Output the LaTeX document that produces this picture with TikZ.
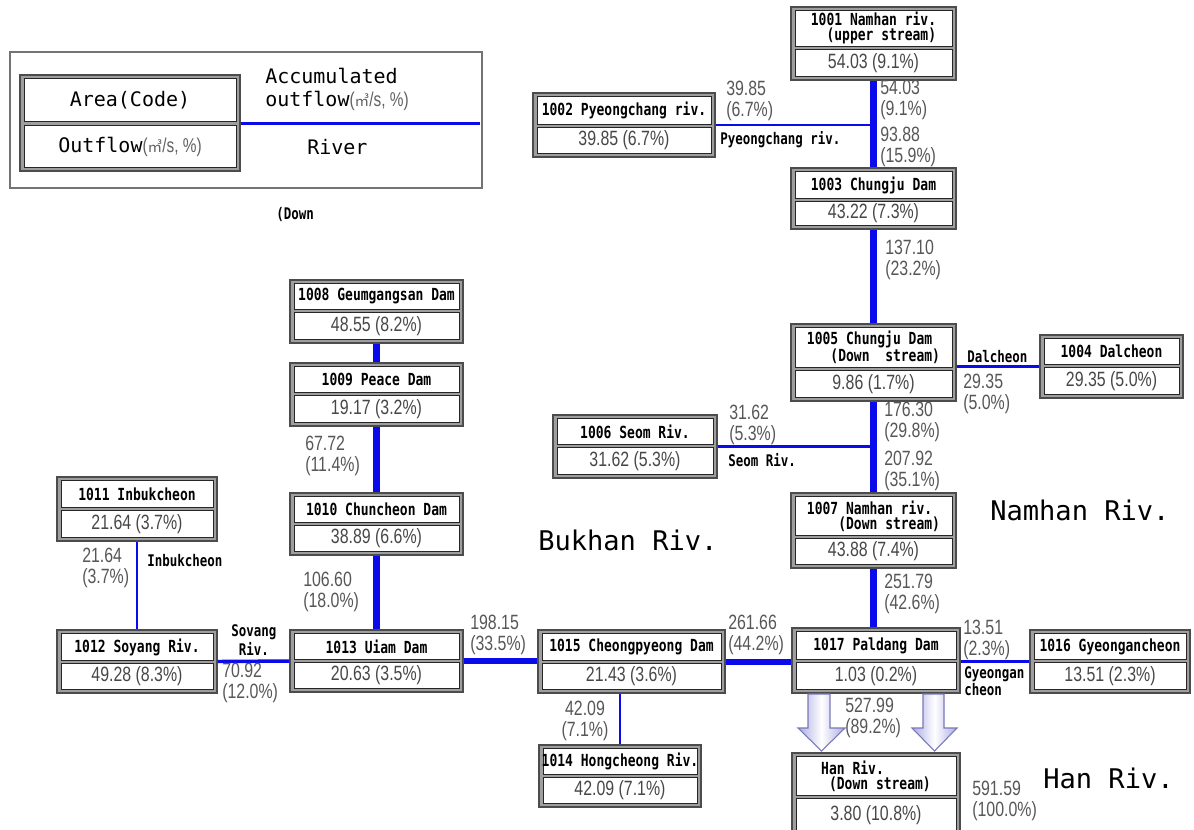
\documentclass[tikz,border=0pt]{standalone}
\usepackage{fontspec}
\setmainfont{Liberation Sans}
\newfontfamily\tfont[FakeStretch=0.78]{DejaVu Sans Mono}
\newfontfamily\mfont{DejaVu Sans Mono}
\newfontfamily\nfont[FakeStretch=0.77]{Liberation Sans}
\newfontfamily\cjk{Noto Sans CJK KR}
\usetikzlibrary{fit}
\definecolor{riverblue}{RGB}{10,10,235}
\definecolor{arrowfill}{RGB}{170,170,228}
\definecolor{arrowedge}{RGB}{120,120,185}
% name, x1, y1, x2, y2, split y, title, value
\newcommand\gbox[8]{%
  \node[frame, fit={(#2,#3) (#4,#5)}] (#1) {};
  \node[inbox, fit={(#2+4,#3+3.5) (#4-4,#6-1.5)}] (#1t) {};
  \node[inbox, fit={(#2+4,#6+1.5) (#4-4,#5-3.5)}] (#1v) {};
  \node[ttl] (#1tt) at (#1t.center) {#7};
  \node[val] (#1vv) at (#1v.center) {#8};
}
\begin{document}
\begin{tikzpicture}[x=0.75pt,y=-0.75pt,
  frame/.style={draw=black!70, fill=black!38, line width=0.9pt, inner sep=0pt},
  inbox/.style={draw=black!85, fill=white, line width=0.7pt, inner sep=0pt},
  ttl/.style={font={\tfont\bfseries\fontsize{12.5}{11.2}\selectfont}, align=left, inner sep=0pt},
  val/.style={font={\nfont\fontsize{15.5}{16}\selectfont}, text=black!72, inner sep=0pt},
  num/.style={font={\nfont\fontsize{15.5}{16.2}\selectfont}, text=black!66, align=left, anchor=west, inner sep=0pt},
  tag/.style={font={\tfont\bfseries\fontsize{12}{10}\selectfont}, align=left, anchor=west, inner sep=0pt},
  big/.style={font={\mfont\fontsize{20.3}{24}\selectfont}, anchor=west, inner sep=0pt},
  legtext/.style={font={\mfont\fontsize{15}{18}\selectfont}, align=left, anchor=west, inner sep=0pt},
  mainriver/.style={draw=riverblue, line width=5.5pt},
  trib/.style={draw=riverblue, line width=2pt},
  bigarrow/.style={draw=arrowedge, line width=0.8pt, left color=arrowfill, right color=arrowfill, middle color=white}
]
\useasboundingbox (0,0) rectangle (1194,829);
\fill[white] (0,0) rectangle (1194,829);

% ---------- legend ----------
\node[draw=black!55, line width=1.2pt, inner sep=0pt, fit={(10,52) (482,188)}] (legend) {};
\node[frame, fit={(20,75) (240,171)}] (lg) {};
\node[inbox, fit={(24,78.5) (236,121.5)}] (lgt) {};
\node[inbox, fit={(24,125.5) (236,167.5)}] (lgv) {};
\node[font={\mfont\fontsize{15}{18}\selectfont}, inner sep=0pt] (lgtt) at (lgt.center) {Area(Code)};
\node[font={\mfont\fontsize{15}{18}\selectfont}, inner sep=0pt] (lgvv) at (lgv.center)
  {Outflow{\nfont\color{black!62}\fontsize{15}{16}\selectfont(\cjk\fontsize{11}{12}\selectfont ㎥\nfont\fontsize{15}{16}\selectfont/s, \%)}};
\coordinate (lgend) at (480,123);
\draw[trib, line width=2.25pt] (lg.east) -- (lgend);
\node[legtext] (acc) at (265,76) {Accumulated};
\node[legtext] (outf) at (265,101) {outflow{\nfont\color{black!62}\fontsize{15}{16}\selectfont(\cjk\fontsize{11}{12}\selectfont ㎥\nfont\fontsize{15}{16}\selectfont/s, \%)}};
\node[legtext] (riv) at (307,147) {River};
\node[tag] (down) at (276,214) {(Down};

% ---------- boxes ----------
\gbox{n1001}{791}{7}{956}{80}{47.5}{1001 Namhan riv.\\~~(upper stream)}{54.03 (9.1\%)}
\gbox{n1002}{533}{93}{715}{157}{126}{1002 Pyeongchang riv.}{39.85 (6.7\%)}
\gbox{n1003}{791}{168}{956}{229}{200}{1003 Chungju Dam}{43.22 (7.3\%)}
\gbox{n1005}{791}{324}{956}{401}{369}{1005 Chungju Dam\\~~~(Down~~stream)}{9.86 (1.7\%)}
\gbox{n1004}{1040}{335}{1183}{398}{366}{1004 Dalcheon}{29.35 (5.0\%)}
\gbox{n1006}{553}{415}{717}{478}{446}{1006 Seom Riv.}{31.62 (5.3\%)}
\gbox{n1007}{791}{493}{956}{568}{537}{1007 Namhan riv.\\~~~~(Down stream)}{43.88 (7.4\%)}
\gbox{n1008}{290}{280}{463}{343}{311}{1008 Geumgangsan Dam}{48.55 (8.2\%)}
\gbox{n1009}{290}{363}{463}{426}{394}{1009 Peace Dam}{19.17 (3.2\%)}
\gbox{n1010}{290}{493}{463}{555}{524}{1010 Chuncheon Dam}{38.89 (6.6\%)}
\gbox{n1011}{57}{477}{217}{541}{509}{1011 Inbukcheon}{21.64 (3.7\%)}
\gbox{n1012}{57}{630}{217}{693}{662}{1012 Soyang Riv.}{49.28 (8.3\%)}
\gbox{n1013}{290}{630}{463}{692}{661}{1013 Uiam Dam}{20.63 (3.5\%)}
\gbox{n1015}{538}{630}{725}{693}{662}{1015 Cheongpyeong Dam}{21.43 (3.6\%)}
\gbox{n1014}{539}{745}{701}{807}{776}{1014 Hongcheong Riv.}{42.09 (7.1\%)}
\gbox{n1017}{792}{628}{960}{693}{661}{1017 Paldang Dam}{1.03 (0.2\%)}
\gbox{n1016}{1030}{630}{1190}{693}{661}{1016 Gyeongancheon}{13.51 (2.3\%)}
\gbox{nhan}{792}{753}{960}{836}{797}{Han Riv.\\~(Down stream)}{3.80 (10.8\%)}

% ---------- rivers ----------
\draw[mainriver] (n1001.south) -- (n1003.north);
\draw[mainriver] (n1003.south) -- (n1005.north);
\draw[mainriver] (n1005.south) -- (n1007.north);
\draw[mainriver] (n1007.south) -- (n1007.south |- n1017.north);
\draw[trib] (n1002.east) -- (n1002.east -| n1001.south);
\draw[trib] (n1004.west) -- (n1004.west -| n1005.east);
\draw[trib] (n1006.east) -- (n1006.east -| n1005.south);
\draw[trib] (n1016.west) -- (n1016.west -| n1017.east);
\draw[mainriver] (n1008.south) -- (n1009.north);
\draw[mainriver] (n1009.south) -- (n1010.north);
\draw[mainriver] (n1010.south) -- (n1013.north);
\draw[trib] (n1011.south) -- (n1012.north);
\draw[trib, line width=2.6pt] (n1012.east) -- (n1013.west);
\draw[mainriver, line width=4.5pt] (n1013.east) -- (n1013.east -| n1015.west);
\draw[mainriver, line width=4.5pt] (n1015.east) -- (n1015.east -| n1017.west);
\draw[trib, line width=1.6pt] (n1014.north) -- (n1014.north |- n1015.south);

% ---------- outflow arrows ----------
\draw[bigarrow] (808,694) -- (830,694) -- (830,728) -- (845,728) -- (821.5,751) -- (798,728) -- (808,728) -- cycle;
\draw[bigarrow] (923,694) -- (944,694) -- (944,728) -- (957,728) -- (934.5,751) -- (912,728) -- (923,728) -- cycle;

% ---------- flow labels ----------
\node[num] (l1) at (880,100) {54.03\\(9.1\%)};
\node[num] (l2) at (880,147) {93.88\\(15.9\%)};
\node[num] (l3) at (726,101) {39.85\\(6.7\%)};
\node[tag] (t1) at (720,140) {Pyeongchang riv.};
\node[num] (l4) at (885,260) {137.10\\(23.2\%)};
\node[tag] (t2) at (967,357) {Dalcheon};
\node[num] (l5) at (963,394) {29.35\\(5.0\%)};
\node[num] (l6) at (884,422) {176.30\\(29.8\%)};
\node[num] (l7) at (884,471) {207.92\\(35.1\%)};
\node[num] (l8) at (729,425) {31.62\\(5.3\%)};
\node[tag] (t3) at (728,460) {Seom Riv.};
\node[big] (b1) at (990,510) {Namhan Riv.};
\node[big] (b2) at (538,540) {Bukhan Riv.};
\node[num] (l9) at (884,594) {251.79\\(42.6\%)};
\node[num] (l10) at (963,640) {13.51\\(2.3\%)};
\node[tag, font={\tfont\bfseries\fontsize{12}{10}\selectfont}] (t4) at (964,681.5) {Gyeongan\\cheon};
\node[num] (l11) at (845,718) {527.99\\(89.2\%)};
\node[num] (l12) at (972,801) {591.59\\(100.0\%)};
\node[big] (b3) at (1043,778) {Han Riv.};
\node[num] (l13) at (305,456) {67.72\\(11.4\%)};
\node[num] (l14) at (303,592) {106.60\\(18.0\%)};
\node[num] (l15) at (82,568) {21.64\\(3.7\%)};
\node[tag] (t5) at (147,561) {Inbukcheon};
\node[tag, font={\tfont\bfseries\fontsize{12}{14}\selectfont}] (t6) at (231,640) {Sovang\\~Riv.};
\node[num] (l16) at (222,683) {70.92\\(12.0\%)};
\node[num] (l17) at (470,635) {198.15\\(33.5\%)};
\node[num] (l18) at (728,635) {261.66\\(44.2\%)};
\node[num, align=center, anchor=center] (l19) at (585,721) {42.09\\(7.1\%)};
\end{tikzpicture}
\end{document}
